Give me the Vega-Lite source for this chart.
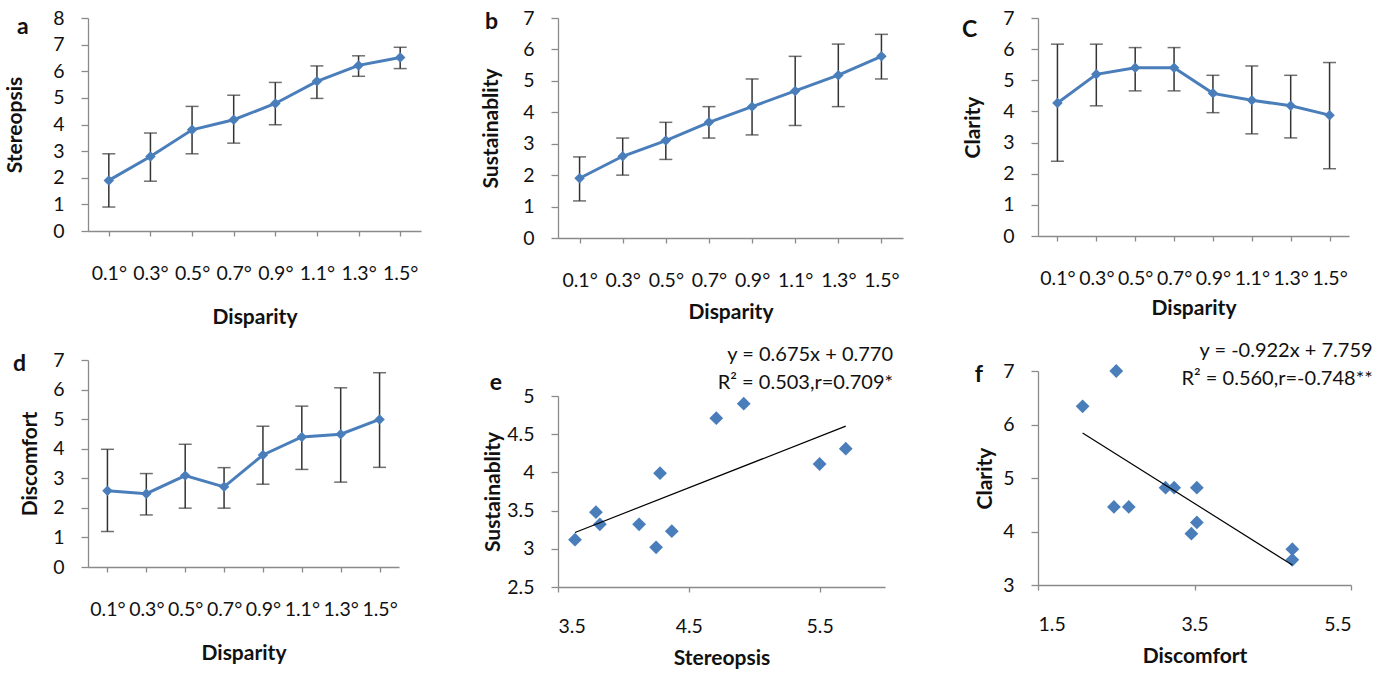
{
  "$schema": "https://vega.github.io/schema/vega-lite/v6.json",
  "padding": {"left": 4, "top": 8, "right": 0, "bottom": 0},
  "background": "white",
  "config": {
    "view": {"stroke": null},
    "font": "Lato",
    "axis": {"grid": false, "domainColor": "#8a8a8a", "tickColor": "#8a8a8a", "domainWidth": 1.3, "tickWidth": 1.3, "labelFont": "Lato", "labelFontSize": 19.5, "labelColor": "#111111", "titleFont": "Lato", "titleFontSize": 21, "titleFontWeight": "bold", "titleColor": "#111111"},
    "axisY": {"tickSize": 7, "labelPadding": 17},
    "axisX": {"tickSize": 5, "labelAngle": 0},
    "title": {"font": "Lato", "fontSize": 23, "fontWeight": "bold", "color": "#111111", "anchor": "start"}
  },
  "datasets": {
    "lines": [
      {"panel": "a", "disparity": "0.1°", "mean": 1.9, "lo": 0.9, "hi": 2.9},
      {"panel": "a", "disparity": "0.3°", "mean": 2.8, "lo": 1.87, "hi": 3.68},
      {"panel": "a", "disparity": "0.5°", "mean": 3.8, "lo": 2.9, "hi": 4.68},
      {"panel": "a", "disparity": "0.7°", "mean": 4.18, "lo": 3.3, "hi": 5.1},
      {"panel": "a", "disparity": "0.9°", "mean": 4.79, "lo": 3.99, "hi": 5.58},
      {"panel": "a", "disparity": "1.1°", "mean": 5.62, "lo": 4.98, "hi": 6.2},
      {"panel": "a", "disparity": "1.3°", "mean": 6.22, "lo": 5.81, "hi": 6.58},
      {"panel": "a", "disparity": "1.5°", "mean": 6.52, "lo": 6.1, "hi": 6.9},
      {"panel": "b", "disparity": "0.1°", "mean": 1.9, "lo": 1.18, "hi": 2.58},
      {"panel": "b", "disparity": "0.3°", "mean": 2.6, "lo": 2.0, "hi": 3.18},
      {"panel": "b", "disparity": "0.5°", "mean": 3.1, "lo": 2.5, "hi": 3.68},
      {"panel": "b", "disparity": "0.7°", "mean": 3.68, "lo": 3.18, "hi": 4.18},
      {"panel": "b", "disparity": "0.9°", "mean": 4.18, "lo": 3.28, "hi": 5.06},
      {"panel": "b", "disparity": "1.1°", "mean": 4.68, "lo": 3.58, "hi": 5.78},
      {"panel": "b", "disparity": "1.3°", "mean": 5.18, "lo": 4.18, "hi": 6.17},
      {"panel": "b", "disparity": "1.5°", "mean": 5.78, "lo": 5.06, "hi": 6.48},
      {"panel": "c", "disparity": "0.1°", "mean": 4.27, "lo": 2.4, "hi": 6.16},
      {"panel": "c", "disparity": "0.3°", "mean": 5.19, "lo": 4.18, "hi": 6.16},
      {"panel": "c", "disparity": "0.5°", "mean": 5.4, "lo": 4.66, "hi": 6.05},
      {"panel": "c", "disparity": "0.7°", "mean": 5.4, "lo": 4.66, "hi": 6.05},
      {"panel": "c", "disparity": "0.9°", "mean": 4.58, "lo": 3.96, "hi": 5.16},
      {"panel": "c", "disparity": "1.1°", "mean": 4.36, "lo": 3.28, "hi": 5.46},
      {"panel": "c", "disparity": "1.3°", "mean": 4.18, "lo": 3.15, "hi": 5.16},
      {"panel": "c", "disparity": "1.5°", "mean": 3.88, "lo": 2.16, "hi": 5.57},
      {"panel": "d", "disparity": "0.1°", "mean": 2.58, "lo": 1.2, "hi": 3.98},
      {"panel": "d", "disparity": "0.3°", "mean": 2.48, "lo": 1.76, "hi": 3.16},
      {"panel": "d", "disparity": "0.5°", "mean": 3.09, "lo": 1.99, "hi": 4.15},
      {"panel": "d", "disparity": "0.7°", "mean": 2.71, "lo": 1.99, "hi": 3.36},
      {"panel": "d", "disparity": "0.9°", "mean": 3.79, "lo": 2.8, "hi": 4.76},
      {"panel": "d", "disparity": "1.1°", "mean": 4.4, "lo": 3.3, "hi": 5.44},
      {"panel": "d", "disparity": "1.3°", "mean": 4.49, "lo": 2.87, "hi": 6.06},
      {"panel": "d", "disparity": "1.5°", "mean": 4.99, "lo": 3.37, "hi": 6.57}
    ],
    "scatterE": [
      {"stereopsis": 3.63, "sustainability": 3.12},
      {"stereopsis": 3.79, "sustainability": 3.48},
      {"stereopsis": 3.82, "sustainability": 3.32},
      {"stereopsis": 4.12, "sustainability": 3.32},
      {"stereopsis": 4.25, "sustainability": 3.02},
      {"stereopsis": 4.28, "sustainability": 3.99},
      {"stereopsis": 4.37, "sustainability": 3.23},
      {"stereopsis": 4.71, "sustainability": 4.71},
      {"stereopsis": 4.92, "sustainability": 4.9},
      {"stereopsis": 5.5, "sustainability": 4.11},
      {"stereopsis": 5.7, "sustainability": 4.31}
    ],
    "scatterF": [
      {"discomfort": 2.07, "clarity": 6.34},
      {"discomfort": 2.5, "clarity": 7.0},
      {"discomfort": 2.47, "clarity": 4.46},
      {"discomfort": 2.66, "clarity": 4.46},
      {"discomfort": 3.13, "clarity": 4.82},
      {"discomfort": 3.24, "clarity": 4.82},
      {"discomfort": 3.53, "clarity": 4.82},
      {"discomfort": 3.46, "clarity": 3.96},
      {"discomfort": 3.53, "clarity": 4.17},
      {"discomfort": 4.75, "clarity": 3.67},
      {"discomfort": 4.75, "clarity": 3.47}
    ]
  },
  "spacing": 59,
  "hconcat": [
    {
      "spacing": 22,
      "vconcat": [
        {
          "width": 333, "height": 213,
          "title": {"text": "a", "frame": "group", "dx": -71, "dy": 35},
          "data": {"name": "lines"},
          "transform": [{"filter": "datum.panel == 'a'"}],
          "encoding": {"x": {"field": "disparity", "type": "ordinal", "sort": null, "scale": {"type": "point", "padding": 0.5}, "axis": {"title": "Disparity", "labelPadding": 28, "titlePadding": 24}}},
          "layer": [
            {"mark": {"type": "rule", "color": "#333333", "strokeWidth": 1.5}, "encoding": {"y": {"field": "lo", "type": "quantitative", "scale": {"domain": [0, 8]}, "axis": {"title": "Stereopsis", "values": [0,1,2,3,4,5,6,7,8], "titlePadding": 27}}, "y2": {"field": "hi"}}},
            {"mark": {"type": "tick", "color": "#333333", "size": 13, "thickness": 1.5}, "encoding": {"y": {"field": "lo", "type": "quantitative", "scale": {"domain": [0, 8]}, "axis": {"title": "Stereopsis", "values": [0,1,2,3,4,5,6,7,8], "titlePadding": 27}}}},
            {"mark": {"type": "tick", "color": "#333333", "size": 13, "thickness": 1.5}, "encoding": {"y": {"field": "hi", "type": "quantitative", "scale": {"domain": [0, 8]}, "axis": {"title": "Stereopsis", "values": [0,1,2,3,4,5,6,7,8], "titlePadding": 27}}}},
            {"mark": {"type": "line", "color": "#4a7ebb", "strokeWidth": 3, "point": {"shape": "diamond", "size": 110, "filled": true, "color": "#4a7ebb", "opacity": 1}}, "encoding": {"y": {"field": "mean", "type": "quantitative", "scale": {"domain": [0, 8]}, "axis": {"title": "Stereopsis", "values": [0,1,2,3,4,5,6,7,8], "titlePadding": 27}}}}
          ]
        },
        {
          "width": 311, "height": 207,
          "title": {"text": "d", "frame": "group", "dx": -75, "dy": 30},
          "data": {"name": "lines"},
          "transform": [{"filter": "datum.panel == 'd'"}],
          "encoding": {"x": {"field": "disparity", "type": "ordinal", "sort": null, "scale": {"type": "point", "padding": 0.5}, "axis": {"title": "Disparity", "labelPadding": 28, "titlePadding": 24}}},
          "layer": [
            {"mark": {"type": "rule", "color": "#333333", "strokeWidth": 1.5}, "encoding": {"y": {"field": "lo", "type": "quantitative", "scale": {"domain": [0, 7]}, "axis": {"title": "Discomfort", "values": [0,1,2,3,4,5,6,7], "titlePadding": 12}}, "y2": {"field": "hi"}}},
            {"mark": {"type": "tick", "color": "#333333", "size": 13, "thickness": 1.5}, "encoding": {"y": {"field": "lo", "type": "quantitative", "scale": {"domain": [0, 7]}, "axis": {"title": "Discomfort", "values": [0,1,2,3,4,5,6,7], "titlePadding": 12}}}},
            {"mark": {"type": "tick", "color": "#333333", "size": 13, "thickness": 1.5}, "encoding": {"y": {"field": "hi", "type": "quantitative", "scale": {"domain": [0, 7]}, "axis": {"title": "Discomfort", "values": [0,1,2,3,4,5,6,7], "titlePadding": 12}}}},
            {"mark": {"type": "line", "color": "#4a7ebb", "strokeWidth": 3, "point": {"shape": "diamond", "size": 110, "filled": true, "color": "#4a7ebb", "opacity": 1}}, "encoding": {"y": {"field": "mean", "type": "quantitative", "scale": {"domain": [0, 7]}, "axis": {"title": "Discomfort", "values": [0,1,2,3,4,5,6,7], "titlePadding": 12}}}}
          ]
        }
      ]
    },
    {
      "spacing": 22,
      "vconcat": [
        {
          "width": 345, "height": 220,
          "title": {"text": "b", "frame": "group", "dx": -73, "dy": 30},
          "data": {"name": "lines"},
          "transform": [{"filter": "datum.panel == 'b'"}],
          "encoding": {"x": {"field": "disparity", "type": "ordinal", "sort": null, "scale": {"type": "point", "padding": 0.5}, "axis": {"title": "Disparity", "labelPadding": 28, "titlePadding": 12}}},
          "layer": [
            {"mark": {"type": "rule", "color": "#333333", "strokeWidth": 1.5}, "encoding": {"y": {"field": "lo", "type": "quantitative", "scale": {"domain": [0, 7]}, "axis": {"title": "Sustainablity", "values": [0,1,2,3,4,5,6,7], "titlePadding": 21}}, "y2": {"field": "hi"}}},
            {"mark": {"type": "tick", "color": "#333333", "size": 13, "thickness": 1.5}, "encoding": {"y": {"field": "lo", "type": "quantitative", "scale": {"domain": [0, 7]}, "axis": {"title": "Sustainablity", "values": [0,1,2,3,4,5,6,7], "titlePadding": 21}}}},
            {"mark": {"type": "tick", "color": "#333333", "size": 13, "thickness": 1.5}, "encoding": {"y": {"field": "hi", "type": "quantitative", "scale": {"domain": [0, 7]}, "axis": {"title": "Sustainablity", "values": [0,1,2,3,4,5,6,7], "titlePadding": 21}}}},
            {"mark": {"type": "line", "color": "#4a7ebb", "strokeWidth": 3, "point": {"shape": "diamond", "size": 110, "filled": true, "color": "#4a7ebb", "opacity": 1}}, "encoding": {"y": {"field": "mean", "type": "quantitative", "scale": {"domain": [0, 7]}, "axis": {"title": "Sustainablity", "values": [0,1,2,3,4,5,6,7], "titlePadding": 21}}}}
          ]
        },
        {
          "title": {"text": "e", "dx": 7, "dy": 54},
          "vconcat": [
            {
              "width": 327, "height": 191,
              "title": {"text": ["y = 0.675x + 0.770", "R² = 0.503,r=0.709*"], "anchor": "end", "align": "right", "fontSize": 20, "fontWeight": "normal", "lineHeight": 28, "dx": 8, "offset": -7},
              "data": {"name": "scatterE"},
              "encoding": {
                "x": {"field": "stereopsis", "type": "quantitative", "scale": {"domain": [3.5, 6], "nice": false, "zero": false}, "axis": {"title": "Stereopsis", "values": [3.5, 4.5, 5.5], "format": ".1f", "labelPadding": 25, "titlePadding": 12}},
                "y": {"field": "sustainability", "type": "quantitative", "scale": {"domain": [2.5, 5], "nice": false, "zero": false}, "axis": {"title": "Sustainablity", "values": [2.5, 3, 3.5, 4, 4.5, 5], "format": "~g", "titlePadding": 3}}
              },
              "layer": [
                {"mark": {"type": "point", "shape": "diamond", "size": 190, "filled": true, "color": "#4a7ebb", "opacity": 1}},
                {"transform": [{"regression": "sustainability", "on": "stereopsis"}], "mark": {"type": "line", "color": "#000000", "strokeWidth": 1.2}}
              ]
            }
          ]
        }
      ]
    },
    {
      "spacing": 22,
      "vconcat": [
        {
          "width": 311, "height": 218,
          "title": {"text": "C", "frame": "group", "dx": -76, "dy": 38},
          "data": {"name": "lines"},
          "transform": [{"filter": "datum.panel == 'c'"}],
          "encoding": {"x": {"field": "disparity", "type": "ordinal", "sort": null, "scale": {"type": "point", "padding": 0.5}, "axis": {"title": "Disparity", "labelPadding": 28, "titlePadding": 10}}},
          "layer": [
            {"mark": {"type": "rule", "color": "#333333", "strokeWidth": 1.5}, "encoding": {"y": {"field": "lo", "type": "quantitative", "scale": {"domain": [0, 7]}, "axis": {"title": "Clarity", "values": [0,1,2,3,4,5,6,7], "titlePadding": 19}}, "y2": {"field": "hi"}}},
            {"mark": {"type": "tick", "color": "#333333", "size": 13, "thickness": 1.5}, "encoding": {"y": {"field": "lo", "type": "quantitative", "scale": {"domain": [0, 7]}, "axis": {"title": "Clarity", "values": [0,1,2,3,4,5,6,7], "titlePadding": 19}}}},
            {"mark": {"type": "tick", "color": "#333333", "size": 13, "thickness": 1.5}, "encoding": {"y": {"field": "hi", "type": "quantitative", "scale": {"domain": [0, 7]}, "axis": {"title": "Clarity", "values": [0,1,2,3,4,5,6,7], "titlePadding": 19}}}},
            {"mark": {"type": "line", "color": "#4a7ebb", "strokeWidth": 3, "point": {"shape": "diamond", "size": 110, "filled": true, "color": "#4a7ebb", "opacity": 1}}, "encoding": {"y": {"field": "mean", "type": "quantitative", "scale": {"domain": [0, 7]}, "axis": {"title": "Clarity", "values": [0,1,2,3,4,5,6,7], "titlePadding": 19}}}}
          ]
        },
        {
          "title": {"text": "f", "dx": 0, "dy": 50},
          "vconcat": [
            {
              "width": 313, "height": 214,
              "title": {"text": ["y = -0.922x + 7.759", "R² = 0.560,r=-0.748**"], "anchor": "end", "align": "right", "fontSize": 20, "fontWeight": "normal", "lineHeight": 28, "dx": 21, "offset": -28},
              "data": {"name": "scatterF"},
              "encoding": {
                "x": {"field": "discomfort", "type": "quantitative", "scale": {"domain": [1.5, 5.5], "nice": false, "zero": false}, "axis": {"title": "Discomfort", "values": [1.5, 3.5, 5.5], "format": ".1f", "labelPadding": 25, "titlePadding": 12}},
                "y": {"field": "clarity", "type": "quantitative", "scale": {"domain": [3, 7], "nice": false, "zero": false}, "axis": {"title": "Clarity", "values": [3, 4, 5, 6, 7], "format": "~g", "titlePadding": 7}}
              },
              "layer": [
                {"mark": {"type": "point", "shape": "diamond", "size": 190, "filled": true, "color": "#4a7ebb", "opacity": 1}},
                {"transform": [{"regression": "clarity", "on": "discomfort"}], "mark": {"type": "line", "color": "#000000", "strokeWidth": 1.2}}
              ]
            }
          ]
        }
      ]
    }
  ]
}
